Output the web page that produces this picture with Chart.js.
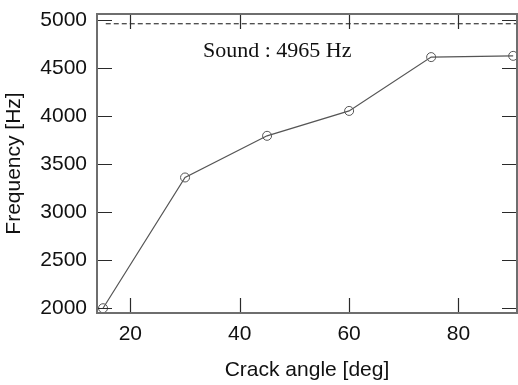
<!DOCTYPE html>
<html>
<head>
<meta charset="utf-8">
<script src="https://cdn.jsdelivr.net/npm/chart.js@4"></script>
<style>
  html, body { margin: 0; padding: 0; background: #fff; }
  canvas { display: block; }
</style>
</head>
<body>
<canvas id="freqChart" width="518" height="385"></canvas>
<script>
// crack angle [deg] vs natural frequency [Hz]
const angles = [15, 30, 45, 60, 75, 90];
const freqs = [1995, 3360, 3795, 4055, 4617, 4630];

// frequency of the sound (uncracked) specimen
const soundFreq = 4965;
const soundLineX = [15.5, 91];

const xTicks = [20, 40, 60, 80];
const yTicks = [2000, 2500, 3000, 3500, 4000, 4500, 5000];
const xRange = [13.9, 90.7];
const yRange = [1945, 5067];

const TICK = 15;

// no extra room for half-labels at the ends of the axes
function noPad(s) {
  s.paddingTop = 0; s.paddingBottom = 0;
  s.paddingLeft = 0; s.paddingRight = 0;
}

// inward ticks on all four sides, the box, and the sound label
const framePlugin = {
  id: "frame",
  afterDatasetsDraw(chart) {
    const { ctx, chartArea: a, scales: { x, y } } = chart;
    ctx.save();
    ctx.strokeStyle = "#2a2a2a";
    ctx.lineWidth = 1.2;
    ctx.beginPath();
    xTicks.forEach(v => {
      const px = Math.round(x.getPixelForValue(v)) + 0.5;
      ctx.moveTo(px, a.bottom); ctx.lineTo(px, a.bottom - TICK);
      ctx.moveTo(px, a.top); ctx.lineTo(px, a.top + TICK);
    });
    yTicks.forEach(v => {
      const py = Math.round(y.getPixelForValue(v)) + 0.5;
      ctx.moveTo(a.left, py); ctx.lineTo(a.left + TICK, py);
      ctx.moveTo(a.right, py); ctx.lineTo(a.right - TICK, py);
    });
    ctx.stroke();

    ctx.strokeStyle = "#6e6e6e";
    ctx.lineWidth = 2;
    ctx.strokeRect(a.left, a.top, a.right - a.left, a.bottom - a.top);

    ctx.fillStyle = "#111";
    ctx.font = '22px "Liberation Serif"';
    ctx.textBaseline = "alphabetic";
    ctx.textAlign = "left";
    ctx.fillText(`Sound : ${soundFreq} Hz`, a.left + 106, a.top + 43);
    ctx.restore();
  }
};

new Chart(document.getElementById("freqChart"), {
  type: "line",
  data: {
    datasets: [
      {
        label: "Frequency",
        data: angles.map((a, i) => ({ x: a, y: freqs[i] })),
        borderColor: "#555",
        borderWidth: 1.2,
        pointRadius: 4.5,
        pointBorderColor: "#555",
        pointBorderWidth: 1,
        pointBackgroundColor: "rgba(0,0,0,0)",
        tension: 0,
        clip: false
      },
      {
        label: "Sound",
        data: soundLineX.map(v => ({ x: v, y: soundFreq })),
        borderColor: "#111",
        borderWidth: 1,
        borderDash: [5, 3],
        pointRadius: 0
      }
    ]
  },
  options: {
    responsive: false,
    devicePixelRatio: 1,
    animation: false,
    layout: { autoPadding: false, padding: { top: 14, right: 1, left: 0, bottom: 0 } },
    plugins: { legend: { display: false }, tooltip: { enabled: false } },
    scales: {
      x: {
        type: "linear",
        min: xRange[0],
        max: xRange[1],
        afterBuildTicks: s => { s.ticks = xTicks.map(v => ({ value: v })); },
        afterFit: s => { s.height = 72; noPad(s); },
        grid: { display: false, drawTicks: false },
        border: { display: false },
        ticks: {
          color: "#111",
          padding: 9,
          maxRotation: 0,
          callback: v => String(v),
          font: { family: "Liberation Sans", size: 21 }
        },
        title: {
          display: true,
          text: "Crack angle [deg]",
          color: "#111",
          padding: { top: 0, bottom: 2 },
          font: { family: "Liberation Sans", size: 21 }
        }
      },
      y: {
        min: yRange[0],
        max: yRange[1],
        afterBuildTicks: s => { s.ticks = yTicks.map(v => ({ value: v })); },
        afterFit: s => { s.width = 97; noPad(s); },
        grid: { display: false, drawTicks: false },
        border: { display: false },
        ticks: {
          color: "#111",
          padding: 10,
          callback: v => String(v),
          font: { family: "Liberation Sans", size: 21 }
        },
        title: {
          display: true,
          text: "Frequency [Hz]",
          color: "#111",
          padding: { top: 2, bottom: 0 },
          font: { family: "Liberation Sans", size: 21 }
        }
      }
    }
  },
  plugins: [framePlugin]
});
</script>
</body>
</html>
